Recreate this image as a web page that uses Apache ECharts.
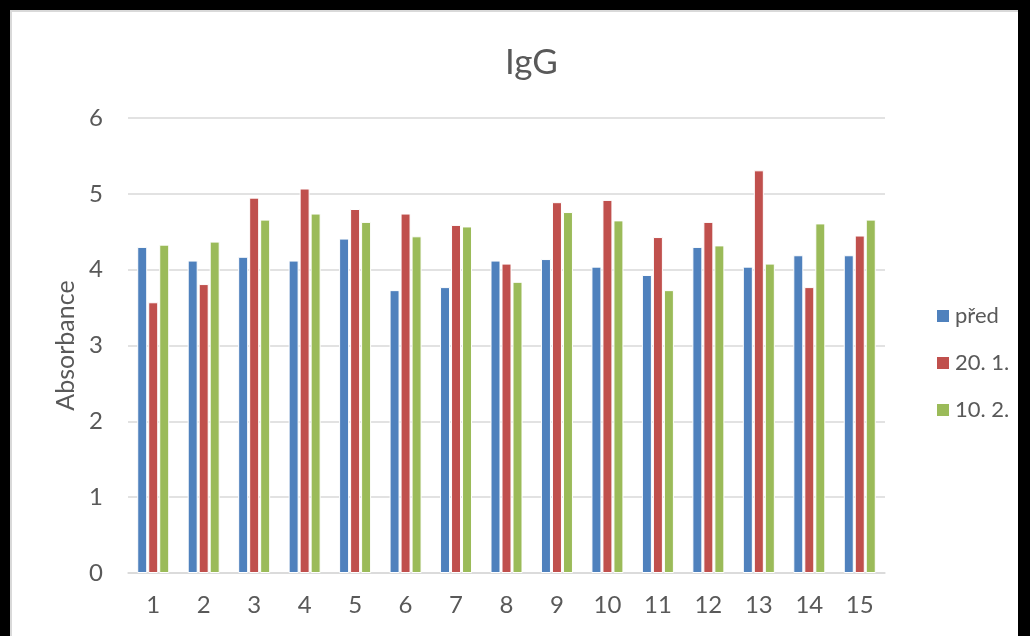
<!DOCTYPE html>
<html>
<head>
<meta charset="utf-8">
<script src="https://cdn.jsdelivr.net/npm/echarts@6/dist/echarts.min.js"></script>
<style>
  html, body { margin: 0; padding: 0; background: #000; }
  #frame {
    position: absolute; left: 10px; top: 10px; width: 1008px; height: 626px;
    background: #fff; border-top: 2px solid #d9d9d9; border-left: 2px solid #d9d9d9;
    box-sizing: border-box;
  }
  #chart { position: absolute; left: -12px; top: -12px; width: 1030px; height: 636px; }
</style>
</head>
<body>
<div id="frame"><div id="chart"></div></div>
<script>
// IgG absorbance per sample, three sampling dates
const categories = ["1", "2", "3", "4", "5", "6", "7", "8", "9", "10", "11", "12", "13", "14", "15"];
const pred = [4.30, 4.12, 4.17, 4.12, 4.41, 3.73, 3.77, 4.12, 4.14, 4.04, 3.93, 4.30, 4.04, 4.19, 4.19];
const jan20 = [3.57, 3.81, 4.95, 5.07, 4.80, 4.74, 4.59, 4.08, 4.89, 4.92, 4.43, 4.63, 5.31, 3.77, 4.45];
const feb10 = [4.33, 4.37, 4.66, 4.74, 4.63, 4.44, 4.57, 3.84, 4.76, 4.65, 3.73, 4.32, 4.08, 4.61, 4.66];
const seriesNames = ["před", "20. 1.", "10. 2."];
const colors = ["#4F81BD", "#C0504D", "#9BBB59"];

const textColor = "#595959";
const font = "Lato, 'Open Sans', sans-serif";

const chart = echarts.init(document.getElementById("chart"));

const makeBar = (name, data) => ({
  name: name,
  type: "bar",
  data: data,
  barWidth: 10,
  barGap: "10%",
  itemStyle: { borderColor: "#fff", borderWidth: 1 },
});

const option = {
  animation: false,
  backgroundColor: "transparent",
  color: colors,
  title: {
    text: "IgG",
    left: 500,
    top: 40,
    textStyle: { color: textColor, fontSize: 35, fontWeight: "normal", fontFamily: font },
  },
  legend: {
    orient: "vertical",
    left: 930,
    top: 300,
    itemWidth: 14,
    itemHeight: 14,
    itemGap: 25,
    icon: "rect",
    textStyle: { color: textColor, fontSize: 22, fontFamily: font },
    data: seriesNames,
  },
  grid: { left: 128, right: 145, top: 118, bottom: 63 },
  xAxis: {
    type: "category",
    data: categories,
    axisLine: { lineStyle: { color: "#d9d9d9", width: 1.5 } },
    axisTick: { show: false },
    axisLabel: { color: textColor, fontSize: 24, fontFamily: font, margin: 20 },
  },
  yAxis: {
    type: "value",
    min: 0,
    max: 6,
    interval: 1,
    name: "Absorbance",
    nameLocation: "middle",
    nameGap: 48,
    nameTextStyle: { color: textColor, fontSize: 25, fontFamily: font },
    axisLine: { show: false },
    axisTick: { show: false },
    axisLabel: { color: textColor, fontSize: 24, fontFamily: font, margin: 25 },
    splitLine: { lineStyle: { color: "#d9d9d9", width: 1.5 } },
  },
  series: [
    makeBar(seriesNames[0], pred),
    makeBar(seriesNames[1], jan20),
    makeBar(seriesNames[2], feb10),
  ],
};

chart.setOption(option);
</script>
</body>
</html>
